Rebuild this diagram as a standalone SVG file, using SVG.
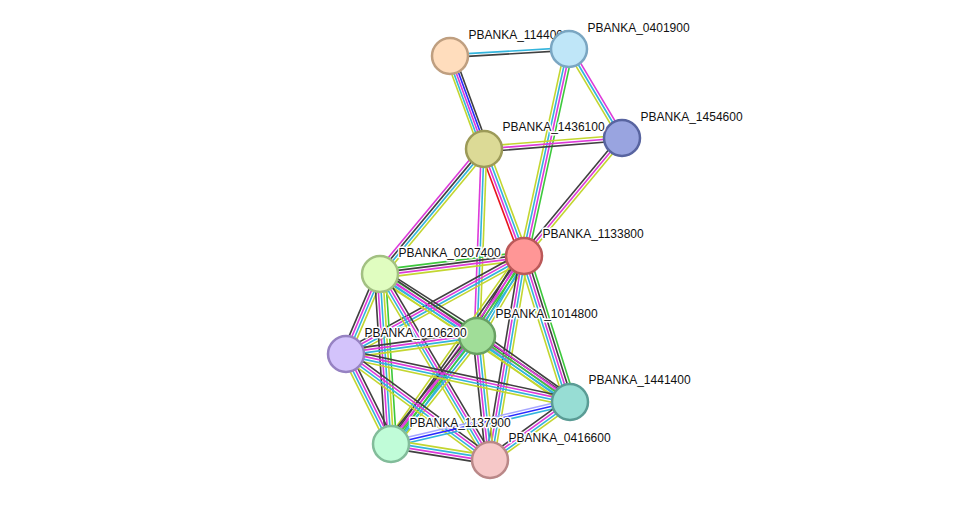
<svg xmlns="http://www.w3.org/2000/svg" width="975" height="506" viewBox="0 0 975 506">
<style>
#edges path{fill:none;stroke-width:1.4}
.nb{stroke:#3cc83c}.fu{stroke:#e8141e}.co{stroke:#2a2aff}.cx{stroke:#404040}
.ex{stroke:#dd3ad9}.db{stroke:#33b4dc}.tm{stroke:#c3d630}.hm{stroke:#a6a6ff}
.node circle{stroke-width:2.5}
.node text{font-family:"Liberation Sans",Arial,sans-serif;font-size:12px;fill:#111;stroke:#fff;stroke-width:3;stroke-linejoin:round;paint-order:stroke}
</style>
<rect width="975" height="506" fill="#fff"/>
<g id="edges">
<!-- A-B -->
<g transform="translate(450,56) rotate(-3.37) scale(1,1.15)"><path class="db" d="M0-1.2H119.2"/><path class="cx" d="M0 1.2H119.2"/></g>
<!-- A-D -->
<g transform="translate(450,56) rotate(69.92) scale(1,1.15)"><path class="cx" d="M0-4H99"/><path class="co" d="M0-2H99"/><path class="ex" d="M0 0H99"/><path class="db" d="M0 2H99"/><path class="tm" d="M0 4H99"/></g>
<!-- B-C -->
<g transform="translate(569,49) rotate(59.22) scale(1,1.15)"><path class="ex" d="M0-2.4H103.6"/><path class="db" d="M0 0H103.6"/><path class="tm" d="M0 2.4H103.6"/></g>
<!-- B-E -->
<g transform="translate(569,49) rotate(102.26) scale(1,1.15)"><path class="nb" d="M0-3.6H211.8"/><path class="ex" d="M0-1.2H211.8"/><path class="db" d="M0 1.2H211.8"/><path class="tm" d="M0 3.6H211.8"/></g>
<!-- D-C -->
<g transform="translate(484,149) rotate(-4.56) scale(1,1.15)"><path class="tm" d="M0-2.4H138.4"/><path class="ex" d="M0 0H138.4"/><path class="cx" d="M0 2.4H138.4"/></g>
<!-- C-E -->
<g transform="translate(622,138) rotate(129.71) scale(1,1.15)"><path class="tm" d="M0-2.4H153.4"/><path class="ex" d="M0 0H153.4"/><path class="cx" d="M0 2.4H153.4"/></g>
<!-- D-E -->
<g transform="translate(484,149) rotate(69.5) scale(1,1.15)"><path class="tm" d="M0-3.6H114.2"/><path class="db" d="M0-1.2H114.2"/><path class="ex" d="M0 1.2H114.2"/><path class="fu" d="M0 3.6H114.2"/></g>
<!-- D-F -->
<g transform="translate(484,149) rotate(129.76) scale(1,1.15)"><path class="tm" d="M0-3.6H162.6"/><path class="db" d="M0-1.2H162.6"/><path class="cx" d="M0 1.2H162.6"/><path class="ex" d="M0 3.6H162.6"/></g>
<!-- D-G -->
<g transform="translate(484,149) rotate(92.14) scale(1,1.15)"><path class="tm" d="M0-2.4H187.1"/><path class="db" d="M0 0H187.1"/><path class="ex" d="M0 2.4H187.1"/></g>
<!-- E-F -->
<g transform="translate(524,256) rotate(172.87) scale(1,1.15)"><path class="tm" d="M0-3.6H145.1"/><path class="ex" d="M0-1.2H145.1"/><path class="cx" d="M0 1.2H145.1"/><path class="nb" d="M0 3.6H145.1"/></g>
<!-- E-G -->
<g transform="translate(524,256) rotate(120.43) scale(1,1.15)"><path class="tm" d="M0-4.8H92.8"/><path class="db" d="M0-2.4H92.8"/><path class="nb" d="M0 0H92.8"/><path class="ex" d="M0 2.4H92.8"/><path class="cx" d="M0 4.8H92.8"/></g>
<!-- E-H -->
<g transform="translate(524,256) rotate(151.16) scale(1,1.15)"><path class="tm" d="M0-3.6H203.2"/><path class="db" d="M0-1.2H203.2"/><path class="ex" d="M0 1.2H203.2"/><path class="cx" d="M0 3.6H203.2"/></g>
<!-- E-I -->
<g transform="translate(524,256) rotate(72.51) scale(1,1.15)"><path class="nb" d="M0-4.8H153.1"/><path class="cx" d="M0-2.4H153.1"/><path class="ex" d="M0 0H153.1"/><path class="db" d="M0 2.4H153.1"/><path class="tm" d="M0 4.8H153.1"/></g>
<!-- E-J -->
<g transform="translate(524,256) rotate(125.28) scale(1,1.15)"><path class="db" d="M0-4.8H230.3"/><path class="nb" d="M0-2.4H230.3"/><path class="ex" d="M0 0H230.3"/><path class="cx" d="M0 2.4H230.3"/><path class="tm" d="M0 4.8H230.3"/></g>
<!-- E-K -->
<g transform="translate(524,256) rotate(99.46) scale(1,1.15)"><path class="tm" d="M0-3.6H206.8"/><path class="db" d="M0-1.2H206.8"/><path class="ex" d="M0 1.2H206.8"/><path class="cx" d="M0 3.6H206.8"/></g>
<!-- F-G -->
<g transform="translate(380,274) rotate(32.59) scale(1,1.15)"><path class="cx" d="M0-4.8H115.1"/><path class="nb" d="M0-2.4H115.1"/><path class="ex" d="M0 0H115.1"/><path class="db" d="M0 2.4H115.1"/><path class="tm" d="M0 4.8H115.1"/></g>
<!-- F-H -->
<g transform="translate(380,274) rotate(113.03) scale(1,1.15)"><path class="tm" d="M0-3.6H86.9"/><path class="db" d="M0-1.2H86.9"/><path class="ex" d="M0 1.2H86.9"/><path class="cx" d="M0 3.6H86.9"/></g>
<!-- F-I -->
<g transform="translate(380,274) rotate(33.97) scale(1,1.15)"><path class="cx" d="M0-3.6H229.1"/><path class="ex" d="M0-1.2H229.1"/><path class="db" d="M0 1.2H229.1"/><path class="tm" d="M0 3.6H229.1"/></g>
<!-- F-J -->
<g transform="translate(380,274) rotate(86.3) scale(1,1.15)"><path class="nb" d="M0-4.8H170.4"/><path class="tm" d="M0-2.4H170.4"/><path class="db" d="M0 0H170.4"/><path class="ex" d="M0 2.4H170.4"/><path class="cx" d="M0 4.8H170.4"/></g>
<!-- F-K -->
<g transform="translate(380,274) rotate(59.4) scale(1,1.15)"><path class="cx" d="M0-3.6H216.1"/><path class="ex" d="M0-1.2H216.1"/><path class="db" d="M0 1.2H216.1"/><path class="tm" d="M0 3.6H216.1"/></g>
<!-- G-H -->
<g transform="translate(477,336) rotate(172.18) scale(1,1.15)"><path class="tm" d="M0-3.6H132.2"/><path class="db" d="M0-1.2H132.2"/><path class="ex" d="M0 1.2H132.2"/><path class="cx" d="M0 3.6H132.2"/></g>
<!-- G-I -->
<g transform="translate(477,336) rotate(35.36) scale(1,1.15)"><path class="cx" d="M0-4.8H114"/><path class="ex" d="M0-2.4H114"/><path class="nb" d="M0 0H114"/><path class="db" d="M0 2.4H114"/><path class="tm" d="M0 4.8H114"/></g>
<!-- G-J -->
<g transform="translate(477,336) rotate(128.53) scale(1,1.15)"><path class="tm" d="M0-4.8H138.1"/><path class="db" d="M0-2.4H138.1"/><path class="nb" d="M0 0H138.1"/><path class="ex" d="M0 2.4H138.1"/><path class="cx" d="M0 4.8H138.1"/></g>
<!-- G-K -->
<g transform="translate(477,336) rotate(84.01) scale(1,1.15)"><path class="tm" d="M0-3.6H124.7"/><path class="db" d="M0-1.2H124.7"/><path class="ex" d="M0 1.2H124.7"/><path class="cx" d="M0 3.6H124.7"/></g>
<!-- H-I -->
<g transform="translate(346,354) rotate(12.09) scale(1,1.15)"><path class="cx" d="M0-3.6H229.1"/><path class="ex" d="M0-1.2H229.1"/><path class="db" d="M0 1.2H229.1"/><path class="tm" d="M0 3.6H229.1"/></g>
<!-- H-J -->
<g transform="translate(346,354) rotate(63.43) scale(1,1.15)"><path class="cx" d="M0-3.6H100.6"/><path class="ex" d="M0-1.2H100.6"/><path class="db" d="M0 1.2H100.6"/><path class="tm" d="M0 3.6H100.6"/></g>
<!-- H-K -->
<g transform="translate(346,354) rotate(36.36) scale(1,1.15)"><path class="cx" d="M0-3.6H178.8"/><path class="ex" d="M0-1.2H178.8"/><path class="db" d="M0 1.2H178.8"/><path class="tm" d="M0 3.6H178.8"/></g>
<!-- I-J -->
<g transform="translate(570,402) rotate(166.8) scale(1,1.15)"><path class="db" d="M0-2.4H183.9"/><path class="co" d="M0 0H183.9"/><path class="hm" d="M0 2.4H183.9"/></g>
<!-- I-K -->
<g transform="translate(570,402) rotate(144.06) scale(1,1.15)"><path class="tm" d="M0-3.6H98.8"/><path class="db" d="M0-1.2H98.8"/><path class="ex" d="M0 1.2H98.8"/><path class="cx" d="M0 3.6H98.8"/></g>
<!-- J-K -->
<g transform="translate(391,444) rotate(9.18) scale(1,1.15)"><path class="tm" d="M0-3.6H100.3"/><path class="db" d="M0-1.2H100.3"/><path class="ex" d="M0 1.2H100.3"/><path class="cx" d="M0 3.6H100.3"/></g>
</g>
<g id="n_PBANKA_1144000" class="node"><text x="468.5" y="38.5">PBANKA_1144000</text><circle cx="450" cy="56" r="18" fill="#ffddbd" stroke="#bf9f80"/></g>
<g id="n_PBANKA_0401900" class="node"><text x="587.5" y="31.5">PBANKA_0401900</text><circle cx="569" cy="49" r="18" fill="#bfe6f8" stroke="#7aa6c2"/></g>
<g id="n_PBANKA_1454600" class="node"><text x="640.5" y="121">PBANKA_1454600</text><circle cx="622" cy="138" r="18" fill="#99a4e0" stroke="#5864a0"/></g>
<g id="n_PBANKA_1436100" class="node"><text x="502.5" y="131">PBANKA_1436100</text><circle cx="484" cy="149" r="18" fill="#dcda96" stroke="#9c9a58"/></g>
<g id="n_PBANKA_0207400" class="node"><text x="398.5" y="257">PBANKA_0207400</text><circle cx="380" cy="274" r="18" fill="#e0fdc0" stroke="#a2c082"/></g>
<g id="n_PBANKA_1133800" class="node"><text x="542.5" y="238">PBANKA_1133800</text><circle cx="524" cy="256" r="18" fill="#ff9696" stroke="#bb5959"/></g>
<g id="n_PBANKA_1014800" class="node"><text x="495.5" y="318">PBANKA_1014800</text><circle cx="477" cy="336" r="18" fill="#a0dd98" stroke="#68a062"/></g>
<g id="n_PBANKA_0106200" class="node"><text x="364.5" y="337">PBANKA_0106200</text><circle cx="346" cy="354" r="18" fill="#d3c3fb" stroke="#9682c2"/></g>
<g id="n_PBANKA_1441400" class="node"><text x="588.5" y="384">PBANKA_1441400</text><circle cx="570" cy="402" r="18" fill="#97ddd4" stroke="#5a9c95"/></g>
<g id="n_PBANKA_1137900" class="node"><text x="409.5" y="427">PBANKA_1137900</text><circle cx="391" cy="444" r="18" fill="#c0fcd8" stroke="#82bc9a"/></g>
<g id="n_PBANKA_0416600" class="node"><text x="508.5" y="442">PBANKA_0416600</text><circle cx="490" cy="460" r="18" fill="#f6c8c8" stroke="#ba8888"/></g>
</svg>
